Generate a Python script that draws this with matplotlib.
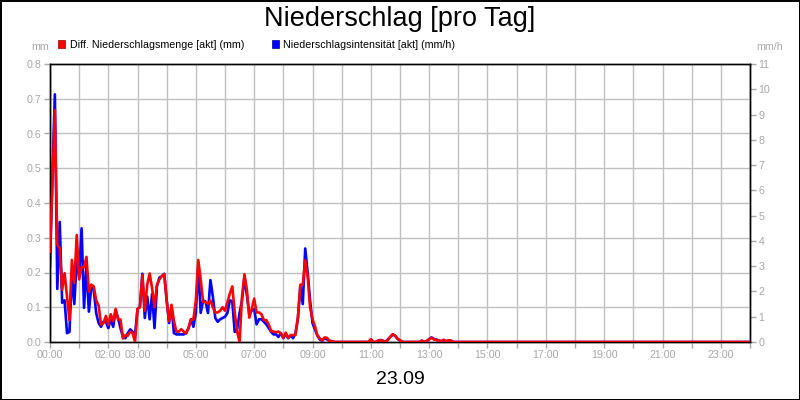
import numpy as np
import matplotlib
matplotlib.use('Agg')
import matplotlib.pyplot as plt
from matplotlib.patches import Patch

plt.rcParams['font.family'] = ['Liberation Sans', 'DejaVu Sans']

# 5-minute values, one row per hour, from 00:00 to 24:00
red_mm = [
    0.26, 0.45, 0.667, 0.28, 0.27, 0.15, 0.198, 0.13, 0.063, 0.236, 0.17, 0.308,
    0.18, 0.215, 0.215, 0.245, 0.145, 0.165, 0.16, 0.12, 0.105, 0.05, 0.055, 0.075,
    0.05, 0.08, 0.06, 0.095, 0.065, 0.065, 0.01, 0.02, 0.018, 0.03, 0.025, 0.0,
    0.095, 0.1, 0.193, 0.09, 0.165, 0.197, 0.155, 0.1, 0.165, 0.18, 0.19, 0.195,
    0.12, 0.06, 0.107, 0.06, 0.03, 0.03, 0.037, 0.03, 0.025, 0.04, 0.065, 0.065,
    0.12, 0.236, 0.18, 0.115, 0.115, 0.11, 0.12, 0.1, 0.085, 0.085, 0.09, 0.1,
    0.09, 0.115, 0.14, 0.16, 0.085, 0.03, 0.0, 0.13, 0.195, 0.15, 0.07, 0.095,
    0.125, 0.085, 0.085, 0.08, 0.063, 0.063, 0.05, 0.032, 0.03, 0.028, 0.03, 0.025,
    0.012, 0.027, 0.012, 0.02, 0.02, 0.02, 0.07, 0.165, 0.165, 0.235, 0.19, 0.1,
    0.065, 0.045, 0.02, 0.01, 0.005, 0.013, 0.012, 0.003, 0.002, 0.0, 0.0, 0.0,
    0.0, 0.0, 0.0, 0.0, 0.0, 0.0, 0.0, 0.0, 0.0, 0.0, 0.0, 0.0,
    0.008, 0.0, 0.0, 0.004, 0.005, 0.003, 0.0, 0.006, 0.015, 0.022, 0.018, 0.01,
    0.005, 0.0, 0.0, 0.0, 0.0, 0.0, 0.0, 0.0, 0.0, 0.004, 0.0, 0.003,
    0.008, 0.012, 0.007, 0.006, 0.004, 0.003, 0.006, 0.002, 0.005, 0.004, 0.0,
] + [0.0] * 122

blue_mmh = [
    3.0, 6.6, 9.8, 2.1, 4.75, 1.55, 1.65, 0.35, 0.4, 2.65, 1.5, 3.25,
    2.6, 4.5, 1.35, 3.0, 1.2, 2.2, 2.05, 1.15, 0.75, 0.6, 0.8, 0.8,
    0.55, 0.9, 0.6, 1.25, 0.95, 0.55, 0.2, 0.15, 0.35, 0.5, 0.4, 0.3,
    1.3, 1.4, 2.7, 0.95, 1.8, 0.9, 1.9, 0.55, 2.2, 2.55, 2.6, 2.7,
    1.65, 0.75, 1.4, 0.35, 0.3, 0.3, 0.3, 0.3, 0.35, 0.55, 0.9, 0.6,
    1.15, 3.0, 1.15, 1.65, 1.6, 1.15, 2.45, 1.8, 0.95, 0.8, 0.9, 0.95,
    1.0, 1.15, 1.65, 1.6, 0.4, 0.5, 1.15, 1.65, 2.55, 1.85, 1.1, 1.25,
    1.3, 0.7, 0.9, 0.9, 0.8, 0.7, 0.55, 0.4, 0.3, 0.3, 0.2, 0.35,
    0.15, 0.3, 0.15, 0.25, 0.15, 0.35, 0.95, 2.2, 1.5, 3.7, 2.75, 1.65,
    0.75, 0.5, 0.25, 0.1, 0.05, 0.15, 0.1, 0.05, 0.03, 0.0, 0.0, 0.0,
    0.0, 0.0, 0.0, 0.0, 0.0, 0.0, 0.0, 0.0, 0.0, 0.0, 0.0, 0.0,
    0.1, 0.0, 0.0, 0.05, 0.08, 0.05, 0.0, 0.1, 0.2, 0.3, 0.25, 0.12,
    0.06, 0.0, 0.0, 0.0, 0.0, 0.0, 0.0, 0.0, 0.0, 0.05, 0.0, 0.03,
    0.12, 0.18, 0.12, 0.1, 0.05, 0.03, 0.08, 0.03, 0.06, 0.05, 0.0,
] + [0.0] * 122

hours = np.arange(len(red_mm)) / 12.0
tick_labels = {0: '00:00', 2: '02:00', 3: '03:00', 5: '05:00', 7: '07:00', 9: '09:00',
               11: '11:00', 13: '13:00', 15: '15:00', 17: '17:00', 19: '19:00',
               21: '21:00', 23: '23:00'}

grey = '#a8a8a8'
gridc = '#c0c0c0'

fig = plt.figure(figsize=(8, 4), dpi=100)
fig.patch.set_edgecolor('black')
fig.patch.set_linewidth(2)

ax = fig.add_axes([0.0625, 0.145, 0.875, 0.695])
ax2 = ax.twinx()

# blue intensity on right scale, drawn underneath (carries the grid)
ax2.plot(hours, blue_mmh, color='#0000ff', lw=1.9, zorder=3)
ax2.set_ylim(0, 11)
ax2.set_yticks(range(0, 12))
ax2.set_yticks(np.arange(0, 0.81, 0.1) * 11 / 0.8, minor=True)
ax2.tick_params(axis='y', which='minor', length=0)
ax2.xaxis.set_visible(True)
ax2.set_xticks(range(0, 25))
ax2.tick_params(axis='x', length=0, labelbottom=False, labeltop=False)
ax2.grid(True, which='minor', axis='y', color=gridc, lw=1)
ax2.grid(True, which='major', axis='x', color=gridc, lw=1)
ax2.set_axisbelow(True)

# red amount on left scale, on top
ax.set_zorder(ax2.get_zorder() + 1)
ax.patch.set_visible(False)
ax.plot(hours, red_mm, color='#ff0000', lw=1.9, zorder=3)
ax.set_ylim(0, 0.8)
ax.set_yticks(np.arange(0, 0.81, 0.1))
ax.set_yticklabels(['%.1f' % v for v in np.arange(0, 0.81, 0.1)])
ax.set_xlim(0, 24)
ax.set_xticks(range(0, 25))
ax.set_xticklabels([tick_labels.get(h, '') for h in range(0, 25)])

for a in (ax, ax2):
    a.tick_params(axis='y', colors=grey, labelsize=7.7, length=4, width=1, pad=2)
    for s in a.spines.values():
        s.set_color('black')
        s.set_linewidth(1)
ax.tick_params(axis='x', colors=grey, labelsize=7.7, length=4, width=1, pad=2)

fig.text(0.5, 0.952, 'Niederschlag [pro Tag]', ha='center', va='center', fontsize=19.5)
fig.text(0.05, 0.882, 'mm', ha='center', va='center', fontsize=7.7, color=grey)
fig.text(0.9625, 0.882, 'mm/h', ha='center', va='center', fontsize=7.7, color=grey)
fig.text(0.5, 0.05, '23.09', ha='center', va='center', fontsize=14)

handles = [Patch(facecolor='#ff0000', edgecolor='#900000', lw=0.5),
           Patch(facecolor='#0000ff', edgecolor='#000090', lw=0.5)]
fig.legend(handles, ['Diff. Niederschlagsmenge [akt] (mm)', 'Niederschlagsintensität [akt] (mm/h)'],
           loc='center left', bbox_to_anchor=(0.073, 0.888), ncol=2, frameon=False,
           fontsize=7.7, handlelength=0.65, handleheight=0.65, handletextpad=0.4,
           columnspacing=2.6, borderpad=0, borderaxespad=0)

fig.savefig('out.png', dpi=100)
